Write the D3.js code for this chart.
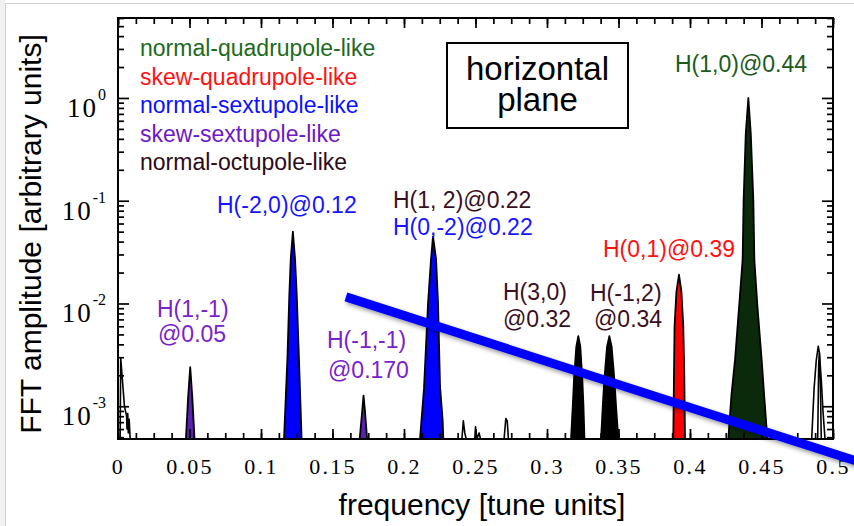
<!DOCTYPE html>
<html>
<head>
<meta charset="utf-8">
<script src="https://cdn.jsdelivr.net/npm/d3@7/dist/d3.min.js"></script>
<style>
  html, body { margin: 0; padding: 0; background: #fff; }
  svg { display: block; }
</style>
</head>
<body>
<svg id="chart" width="854" height="526"></svg>
<script>
// ---- data -------------------------------------------------------------
// frequency axis (tune units) and amplitude axis (log)
const freqDomain = [0, 0.5];
const ampDomain = [4.8e-4, 6];
const freqMajorTicks = [0, 0.05, 0.1, 0.15, 0.2, 0.25, 0.3, 0.35, 0.4, 0.45, 0.5];
const freqTickLabels = ["0", "0.05", "0.1", "0.15", "0.2", "0.25", "0.3", "0.35", "0.4", "0.45", "0.5"];
const freqMinorStep = 0.0125;
const ampDecades = [1, 0.1, 0.01, 0.001];
const ampExponents = ["0", "-1", "-2", "-3"];

// resonance families shown in the legend
const families = ["quadNormal", "quadSkew", "sextNormal", "sextSkew", "octNormal"];
const familyLabels = ["normal-quadrupole-like", "skew-quadrupole-like", "normal-sextupole-like",
                      "skew-sextupole-like", "normal-octupole-like"];

// spectrum lines: [frequency, amplitude] traced around each peak
const peakDC = [[0.0015, 4.8e-4], [0.0019, 2.94e-3], [0.0045, 1.0e-3], [0.006, 8e-4], [0.0063, 6e-4],
                [0.0068, 8.5e-4], [0.0072, 5.5e-4], [0.0078, 7.5e-4], [0.0085, 4.8e-4]];
const peakH1m1 = [[0.0475, 4.8e-4], [0.0490, 1.2e-3], [0.0505, 2.4e-3], [0.0520, 1.2e-3], [0.0535, 4.8e-4]];
const peakHm20 = [[0.1161, 4.8e-4], [0.1185, 3e-3], [0.1198, 1.2e-2], [0.1208, 0.027], [0.1223, 0.05],
                  [0.1238, 0.027], [0.1250, 1.2e-2], [0.1265, 3e-3], [0.1284, 4.8e-4]];
const peakHm1m1 = [[0.1690, 4.8e-4], [0.1708, 9e-4], [0.1717, 1.27e-3], [0.1727, 9e-4], [0.1742, 4.8e-4]];
const peakH0m2 = [[0.2112, 4.8e-4], [0.2140, 1.5e-3], [0.2168, 1e-2], [0.2189, 0.027], [0.2203, 0.045],
                  [0.2224, 0.027], [0.2238, 1e-2], [0.2252, 1.55e-3], [0.2270, 7.4e-4], [0.2275, 4.8e-4]];
const spikeA = [[0.2405, 4.8e-4], [0.2415, 7.2e-4], [0.2425, 5.5e-4], [0.2435, 4.8e-4]];
const spikeB = [[0.2495, 4.8e-4], [0.2500, 6.3e-4], [0.2510, 4.8e-4], [0.2525, 5.5e-4], [0.2535, 4.8e-4]];
const spikeC = [[0.2700, 4.8e-4], [0.2712, 7.6e-4], [0.2722, 7.2e-4], [0.2730, 4.8e-4]];
const peakH30 = [[0.3168, 4.8e-4], [0.3180, 1e-3], [0.3189, 1.83e-3], [0.3205, 3.8e-3], [0.3219, 4.8e-3],
                 [0.3233, 3.8e-3], [0.3247, 1.83e-3], [0.3255, 1e-3], [0.3262, 4.8e-4]];
const peakHm12 = [[0.3378, 4.8e-4], [0.3390, 1e-3], [0.3401, 1.83e-3], [0.3420, 3.8e-3], [0.3436, 4.8e-3],
                  [0.3452, 3.8e-3], [0.3471, 1.83e-3], [0.3485, 9e-4], [0.3499, 4.8e-4]];
const peakH01 = [[0.3883, 4.8e-4], [0.3888, 2e-3], [0.3892, 6e-3], [0.3905, 0.013], [0.3923, 0.0191],
                 [0.3940, 0.013], [0.3953, 6e-3], [0.3960, 2e-3], [0.3965, 4.8e-4]];
const peakH10 = [[0.4268, 4.8e-4], [0.4290, 1.3e-3], [0.4315, 2.85e-3], [0.4345, 1e-2], [0.4368, 0.0267],
                 [0.4375, 0.1], [0.4390, 0.45], [0.4408, 1.0], [0.4425, 0.45], [0.4443, 0.1],
                 [0.4450, 0.0267], [0.4470, 1e-2], [0.4501, 2.85e-3], [0.4520, 1.2e-3], [0.4541, 4.8e-4]];
const peakEdge = [[0.4851, 4.8e-4], [0.4868, 1.5e-3], [0.4883, 2.8e-3], [0.4897, 3.84e-3], [0.4905, 3.3e-3],
                  [0.4918, 1.8e-3], [0.4930, 9e-4], [0.4944, 4.8e-4]];
const peakEdgeInner = [[0.4893, 4.8e-4], [0.4900, 2.6e-3], [0.4905, 3.3e-3], [0.4912, 1.6e-3], [0.4918, 4.8e-4]];

// which family each traced line belongs to ("none" = unclassified line)
const spectrum = [
  { pts: peakDC, family: "none" },
  { pts: peakH1m1, family: "sextSkew" },
  { pts: peakHm20, family: "sextNormal" },
  { pts: peakHm1m1, family: "sextSkew" },
  { pts: peakH0m2, family: "sextNormal" },
  { pts: spikeA, family: "none" },
  { pts: spikeB, family: "none" },
  { pts: spikeC, family: "none" },
  { pts: peakH30, family: "octNormal" },
  { pts: peakHm12, family: "octNormal" },
  { pts: peakH01, family: "quadSkew" },
  { pts: peakH10, family: "quadNormal" },
  { pts: peakEdge, family: "none" },
  { pts: peakEdgeInner, family: "none" }
];

// resonance annotations (one entry per text line)
const noteText = ["H(1,0)@0.44", "H(-2,0)@0.12", "H(1, 2)@0.22", "H(0,-2)@0.22", "H(0,1)@0.39",
                  "H(1,-1)", "@0.05", "H(-1,-1)", "@0.170", "H(3,0)", "@0.32", "H(-1,2)", "@0.34"];
const noteFamily = ["quadNormal", "sextNormal", "octNormal", "sextNormal", "quadSkew",
                    "sextSkew", "sextSkew", "sextSkew", "sextSkew", "octNormal", "octNormal", "octNormal", "octNormal"];

// decaying trend drawn across the spectrum, [frequency, amplitude]
const trendLine = [[0.1594, 0.01159], [0.519, 2.85e-4]];

const planeLabel = ["horizontal", "plane"];

// ---- styling & layout ------------------------------------------------
const textColor = {
  quadNormal: "#1d6a1d", quadSkew: "#ff1212", sextNormal: "#0c12ff",
  sextSkew: "#6e18c6", octNormal: "#2c0a18"
};
const noteColor = {
  quadNormal: "#1a5a1a", quadSkew: "#ff1010", sextNormal: "#1414ff",
  sextSkew: "#7a22cc", octNormal: "#3a0f22"
};
const fillColor = {
  quadNormal: "#0b2a0b", quadSkew: "#ff0000", sextNormal: "#0000ff",
  sextSkew: "#5a20b0", octNormal: "#000000", none: "#ffffff"
};
// pixel placement of annotation lines: [left x, baseline y]
const notePos = [[675, 72], [217, 213], [393, 208], [393, 235], [603, 257],
                 [157, 317], [158, 342], [327, 348], [328, 378], [503, 300], [503, 327], [590, 301], [594, 327]];

const W = 854, H = 526;
const plot = { left: 118, right: 833, top: 18, bottom: 439 };
const SANS = "'Liberation Sans', Arial, Helvetica, sans-serif";
const SERIF = "'Liberation Serif', 'Times New Roman', serif";

const svg = d3.select("#chart");

// page edge
svg.append("rect").attr("x", 0).attr("y", 0).attr("width", 5).attr("height", H).attr("fill", "#f1f1f1");
svg.append("line").attr("x1", 5.5).attr("x2", 5.5).attr("y1", 3).attr("y2", H).attr("stroke", "#cfcfcf");
svg.append("line").attr("x1", 5).attr("x2", W).attr("y1", 3.5).attr("y2", 3.5).attr("stroke", "#cfcfcf");

const defs = svg.append("defs");
defs.append("clipPath").attr("id", "plotClip")
  .append("rect").attr("x", plot.left).attr("y", plot.top)
  .attr("width", plot.right - plot.left).attr("height", plot.bottom - plot.top);
const shadow = defs.append("filter").attr("id", "shadow")
  .attr("x", "-10%").attr("y", "-50%").attr("width", "120%").attr("height", "200%");
shadow.append("feDropShadow").attr("dx", 1.5).attr("dy", 2.5).attr("stdDeviation", 2)
  .attr("flood-color", "#000").attr("flood-opacity", 0.4);

const x = d3.scaleLinear().domain(freqDomain).range([plot.left, plot.right]);
const y = d3.scaleLog().domain(ampDomain).range([plot.bottom, plot.top]);

// ---- spectrum ----------------------------------------------------------
const line = d3.line().x(d => x(d[0])).y(d => y(Math.max(d[1], ampDomain[0])));
const gSpec = svg.append("g").attr("clip-path", "url(#plotClip)");
gSpec.selectAll("path.peak").data(spectrum).join("path")
  .attr("class", "peak")
  .attr("d", d => line(d.pts) + "Z")
  .attr("fill", d => fillColor[d.family])
  .attr("stroke", "#000")
  .attr("stroke-width", d => d.family === "none" ? 1.6 : 1.8)
  .attr("stroke-linejoin", "round");

// ---- axes ---------------------------------------------------------------
const minorFreq = d3.range(0, freqDomain[1] + 1e-9, freqMinorStep).map(v => +v.toFixed(4));
const minorAmp = [];
[1e-4, 1e-3, 1e-2, 1e-1, 1].forEach(dec => {
  for (let k = 2; k <= 9; k++) {
    const v = dec * k;
    if (v >= ampDomain[0] && v <= ampDomain[1]) minorAmp.push(v);
  }
});

function tickStyle(g) {
  g.select(".domain").remove();
  g.selectAll(".tick line").attr("stroke", "#000").attr("stroke-width", 1.7);
}

svg.append("g").attr("transform", `translate(0,${plot.bottom})`)
  .call(d3.axisBottom(x).tickValues(minorFreq).tickSize(-6).tickFormat(""))
  .call(tickStyle);
svg.append("g").attr("transform", `translate(0,${plot.top})`)
  .call(d3.axisTop(x).tickValues(minorFreq).tickSize(-6).tickFormat(""))
  .call(tickStyle);
svg.append("g").attr("transform", `translate(0,${plot.top})`)
  .call(d3.axisTop(x).tickValues(freqMajorTicks).tickSize(-10).tickFormat(""))
  .call(tickStyle);
const xAxis = svg.append("g").attr("transform", `translate(0,${plot.bottom})`)
  .call(d3.axisBottom(x).tickValues(freqMajorTicks).tickSize(-10).tickPadding(19)
    .tickFormat((d, i) => freqTickLabels[i]))
  .call(tickStyle);
xAxis.selectAll(".tick text")
  .attr("fill", "#000").attr("font-family", SERIF).attr("font-size", 22)
  .attr("letter-spacing", "2.3px").attr("dy", "0.71em");

[["left", d3.axisLeft, plot.left], ["right", d3.axisRight, plot.right]].forEach(([side, ax, pos]) => {
  svg.append("g").attr("transform", `translate(${pos},0)`)
    .call(ax(y).tickValues(minorAmp).tickSize(-6).tickFormat(""))
    .call(tickStyle);
  svg.append("g").attr("transform", `translate(${pos},0)`)
    .call(ax(y).tickValues(ampDecades).tickSize(-11).tickFormat(""))
    .call(tickStyle);
});

// decade labels: 10 with superscript exponent
const yLab = svg.append("g");
ampDecades.forEach((v, i) => {
  const t = yLab.append("text")
    .attr("x", 106).attr("y", y(v) + 19)
    .attr("text-anchor", "end")
    .attr("font-family", SERIF).attr("fill", "#000");
  t.append("tspan").attr("font-size", 27).attr("letter-spacing", "2px").text("10");
  t.append("tspan").attr("font-size", 16).attr("dy", -17).text(ampExponents[i]);
});

// frame
svg.append("rect")
  .attr("x", plot.left).attr("y", plot.top)
  .attr("width", plot.right - plot.left).attr("height", plot.bottom - plot.top)
  .attr("fill", "none").attr("stroke", "#000").attr("stroke-width", 2);

// axis titles
svg.append("text")
  .attr("transform", `translate(41,234) rotate(-90)`)
  .attr("text-anchor", "middle")
  .attr("font-family", SANS).attr("font-size", 30).attr("fill", "#000")
  .text("FFT amplitude [arbitrary units]");
svg.append("text")
  .attr("x", 482).attr("y", 515)
  .attr("text-anchor", "middle")
  .attr("font-family", SANS).attr("font-size", 30).attr("fill", "#000")
  .text("frequency [tune units]");

// ---- legend -------------------------------------------------------------
svg.append("g").selectAll("text").data(familyLabels).join("text")
  .attr("x", 140).attr("y", (d, i) => 56 + i * 28.5)
  .attr("font-family", SANS).attr("font-size", 23)
  .attr("fill", (d, i) => textColor[families[i]])
  .text(d => d);

// plane box: two-line caption in one text element
svg.append("rect").attr("x", 447).attr("y", 43).attr("width", 181).attr("height", 85)
  .attr("fill", "#fff").attr("stroke", "#000").attr("stroke-width", 2);
svg.append("text")
  .attr("text-anchor", "middle")
  .attr("font-family", SANS).attr("font-size", 33).attr("fill", "#000")
  .selectAll("tspan").data(planeLabel).join("tspan")
  .attr("x", 537.5).attr("y", (d, i) => 80 + i * 31)
  .text(d => d);

// ---- annotations --------------------------------------------------------
svg.append("g").selectAll("text").data(noteText).join("text")
  .attr("x", (d, i) => notePos[i][0]).attr("y", (d, i) => notePos[i][1])
  .attr("font-family", SANS).attr("font-size", 23)
  .attr("fill", (d, i) => noteColor[noteFamily[i]])
  .text(d => d);

// trend line
svg.append("line")
  .attr("x1", x(trendLine[0][0])).attr("y1", y(trendLine[0][1]))
  .attr("x2", x(trendLine[1][0])).attr("y2", y(trendLine[1][1]))
  .attr("stroke", "#0000ff").attr("stroke-width", 9)
  .attr("filter", "url(#shadow)");
</script>
</body>
</html>
